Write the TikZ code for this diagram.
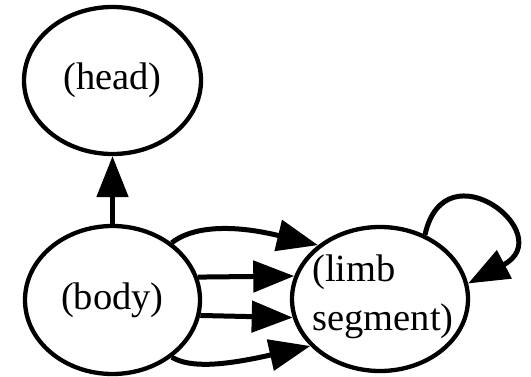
\documentclass[tikz,border=0pt]{standalone}
\usepackage{fontspec}
\setmainfont{Liberation Serif}
\usetikzlibrary{shapes.geometric,arrows.meta}
\begin{document}
\begin{tikzpicture}[x=1pt,y=-1pt,
  state/.style={ellipse,draw,line width=4.3pt,inner sep=0pt},
  lbl/.style={font=\fontsize{38.5}{49}\selectfont,inner sep=0pt},
  edge/.style={line width=5pt,-{Triangle[length=41pt,width=31pt]}}]
  \useasboundingbox (0,0) rectangle (531,377);

  % the three parts
  \node[state,minimum width=177pt,minimum height=147pt] (head) at (112.5,80.5) {};
  \node[state,minimum width=175pt,minimum height=148pt] (body) at (112.5,300) {};
  \node[state,minimum width=176pt,minimum height=144pt] (limb) at (380,299) {};

  \node[lbl] (headtxt) at (head) {(head)};
  \node[lbl] (bodytxt) at (body) {(body)};
  \node[lbl,align=left] (limbtxt) at (383,297) {(limb\\segment)};

  % connections
  \draw[edge] (body.north) -- (head.south);
  \draw[edge] (body.44) .. controls (190,228) and (227,223) .. (limb.139);
  \draw[edge] (body.15) -- (limb.165);
  \draw[edge] (body.-10) -- (limb.-168);
  \draw[edge] (body.-44) .. controls (190,368) and (222,366) .. (limb.-146);
  \draw[edge] (limb.55) .. controls (445,145) and (560,235) .. (limb.10);
\end{tikzpicture}
\end{document}
